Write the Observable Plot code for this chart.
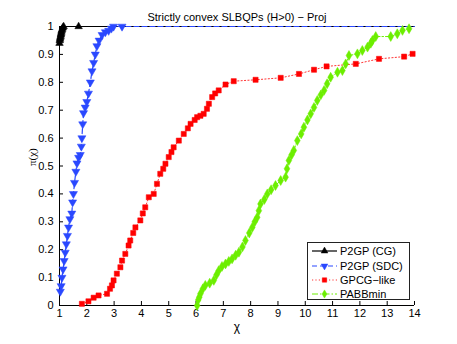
<!DOCTYPE html>
<html><head><meta charset="utf-8">
<script src="https://cdn.jsdelivr.net/npm/d3@7"></script>
<script src="https://cdn.jsdelivr.net/npm/@observablehq/plot@0.6"></script>
<style>
body{margin:0;background:#fff;}
#wrap{position:relative;width:457px;height:344px;}
#legend{position:absolute;left:307px;top:242px;width:103px;height:58px;border:1px solid #222;background:#fff;box-sizing:border-box;font:11px "Liberation Sans",Arial,sans-serif;color:#000;}
.row{position:absolute;left:0;height:14px;display:flex;align-items:center;white-space:nowrap;}
.row svg{display:block;margin-left:4px;margin-right:3px;}
</style></head><body>
<div id="wrap"><div id="legend"></div></div>
<script>
const titleText = "Strictly convex SLBQPs (H>0) \u2212 Proj";
const xLabel = "\u03c7";
const yLabel = "\u03c0(\u03c7)";
const xTicks = [1,2,3,4,5,6,7,8,9,10,11,12,13,14];
const yTicks = [0,0.1,0.2,0.3,0.4,0.5,0.6,0.7,0.8,0.9,1];
const xEnd = 14;

const seriesNames = ["P2GP (CG)", "P2GP (SDC)", "GPCG\u2212like", "PABBmin"];

const cgX = [1.0,1.01,1.02,1.03,1.04,1.05,1.06,1.07,1.08,1.1,1.12,1.15,1.7];
const cgY = [0.94,0.95,0.955,0.96,0.965,0.97,0.975,0.98,0.985,0.99,0.995,1.0,1.0];

const sdcX = [1.03,1.06,1.09,1.13,1.17,1.21,1.25,1.29,1.33,1.38,1.45,1.48,1.51,1.55,1.6,1.64,1.7,1.76,1.8,1.82,1.85,1.88,1.94,2.0,2.06,2.13,2.19,2.25,2.31,2.37,2.45,2.56,2.68,2.8,2.9,2.98,3.29];
const sdcY = [0.05,0.07,0.1,0.13,0.16,0.19,0.22,0.25,0.28,0.31,0.33,0.37,0.4,0.44,0.48,0.51,0.53,0.54,0.57,0.6,0.65,0.69,0.71,0.73,0.76,0.8,0.84,0.87,0.9,0.93,0.95,0.97,0.98,0.985,0.993,1.0,1.0];

const gpcgX = [1.82,2.06,2.25,2.43,2.74,2.85,2.92,2.98,3.1,3.23,3.29,3.41,3.53,3.59,3.7,3.78,3.96,4.05,4.14,4.27,4.45,4.57,4.69,4.8,4.88,5.0,5.1,5.18,5.37,5.55,5.7,5.8,5.95,6.04,6.16,6.28,6.4,6.47,6.59,6.7,6.83,7.08,7.38,8.18,9.1,9.77,10.32,10.78,11.85,12.7,13.62,13.93];
const gpcgY = [0.006,0.015,0.028,0.036,0.042,0.06,0.072,0.09,0.114,0.137,0.161,0.185,0.215,0.233,0.26,0.28,0.305,0.33,0.352,0.388,0.4,0.436,0.472,0.49,0.508,0.532,0.55,0.567,0.591,0.615,0.635,0.651,0.665,0.675,0.68,0.687,0.705,0.723,0.747,0.76,0.771,0.792,0.804,0.809,0.816,0.83,0.845,0.857,0.866,0.884,0.892,0.902];

const pabbX = [6.04,6.08,6.12,6.16,6.25,6.34,6.5,6.65,6.75,6.83,6.95,7.08,7.2,7.32,7.45,7.57,7.7,7.81,7.95,8.06,8.15,8.24,8.3,8.36,8.5,8.61,8.75,8.91,9.1,9.28,9.33,9.4,9.5,9.58,9.71,9.85,9.95,10.08,10.2,10.32,10.44,10.57,10.69,10.8,10.93,11.18,11.36,11.48,11.6,11.91,12.09,12.28,12.4,12.46,12.58,13.13,13.37,13.56,13.8];
const pabbY = [0.0,0.02,0.03,0.042,0.06,0.072,0.08,0.09,0.11,0.125,0.14,0.149,0.158,0.167,0.18,0.191,0.21,0.233,0.26,0.28,0.3,0.316,0.34,0.364,0.38,0.4,0.415,0.43,0.448,0.46,0.49,0.52,0.54,0.556,0.591,0.615,0.639,0.665,0.687,0.71,0.735,0.755,0.771,0.795,0.818,0.836,0.842,0.866,0.896,0.902,0.914,0.926,0.94,0.95,0.964,0.964,0.974,0.986,0.992];

const styles = [
  {color:"#000000", dash:null, width:1.2, symbol:"triangle", rotate:0, r:2.8, extend:true},
  {color:"#2a48ff", dash:"5,3", width:1.2, symbol:"triangle", rotate:180, r:3, extend:true},
  {color:"#ff0000", dash:"1.2,2.2", width:0.8, symbol:"square", rotate:0, r:2.9, extend:false},
  {color:"#6cee00", dash:"6,2,1.5,2", width:1, symbol:"diamond", rotate:0, r:3, extend:false}
];
const xs = [cgX, sdcX, gpcgX, pabbX];
const ys = [cgY, sdcY, gpcgY, pabbY];

const marks = [];
marks.push(Plot.tickX(xTicks, {x: d => d, insetTop: 275, stroke: "#000"}));
marks.push(Plot.tickY(yTicks, {y: d => d, insetRight: 351, stroke: "#000"}));
marks.push(Plot.ruleX([xTicks[0]], {stroke: "#000"}));
marks.push(Plot.ruleY([yTicks[0]], {stroke: "#000"}));
marks.push(Plot.axisX(xTicks, {tickSize: 0, tickPadding: 4, tickFormat: d => String(d), label: null}));
marks.push(Plot.axisY(yTicks, {tickSize: 0, tickPadding: 6, tickFormat: d => String(d), label: null}));

for (let k = 0; k < 4; k++) {
  const s = styles[k];
  const rows = xs[k].map((x, i) => ({x, y: ys[k][i]}));
  const lineRows = s.extend ? rows.concat([{x: xEnd, y: rows[rows.length - 1].y}]) : rows;
  marks.push(Plot.line(lineRows, {x: "x", y: "y", stroke: s.color, strokeWidth: s.width, strokeDasharray: s.dash}));
  marks.push(Plot.dot(rows, {x: "x", y: "y", symbol: s.symbol, r: s.r, fill: s.color, stroke: s.color, strokeWidth: 0.5, rotate: s.rotate}));
}

marks.push(Plot.text([titleText], {frameAnchor: "top", dy: -13, fontSize: 11}));
marks.push(Plot.text([xLabel], {frameAnchor: "bottom", dy: 25, fontSize: 12}));
marks.push(Plot.text([yLabel], {frameAnchor: "left", dx: -27, rotate: -90, fontSize: 11, fontFamily: "Liberation Serif, serif"}));

const chart = Plot.plot({
  width: 457, height: 344,
  marginLeft: 59, marginRight: 43, marginTop: 26, marginBottom: 39,
  x: {domain: [1, 14]},
  y: {domain: [0, 1]},
  style: {fontFamily: "Liberation Sans, Arial, sans-serif", fontSize: "11px", color: "#000", background: "#fff"},
  marks
});
document.getElementById("wrap").prepend(chart);

const legend = document.getElementById("legend");
const rowTops = [1, 16, 30, 44];
for (let k = 0; k < 4; k++) {
  const s = styles[k];
  const row = document.createElement("div");
  row.className = "row";
  row.style.top = rowTops[k] + "px";
  const svg = d3.create("svg").attr("width", 25).attr("height", 14);
  svg.append("line").attr("x1", 0).attr("x2", 25).attr("y1", 7).attr("y2", 7)
    .attr("stroke", s.color).attr("stroke-width", s.width).attr("stroke-dasharray", s.dash);
  const symType = s.symbol === "triangle" ? d3.symbolTriangle : s.symbol === "square" ? d3.symbolSquare : d3.symbolDiamond;
  svg.append("path").attr("d", d3.symbol(symType, Math.PI * 2.5 * 2.5)())
    .attr("transform", `translate(12.5,7) rotate(${s.rotate})`).attr("fill", s.color).attr("stroke", s.color).attr("stroke-width", 0.5);
  row.appendChild(svg.node());
  const span = document.createElement("span");
  span.textContent = seriesNames[k];
  row.appendChild(span);
  legend.appendChild(row);
}
</script>
</body></html>
